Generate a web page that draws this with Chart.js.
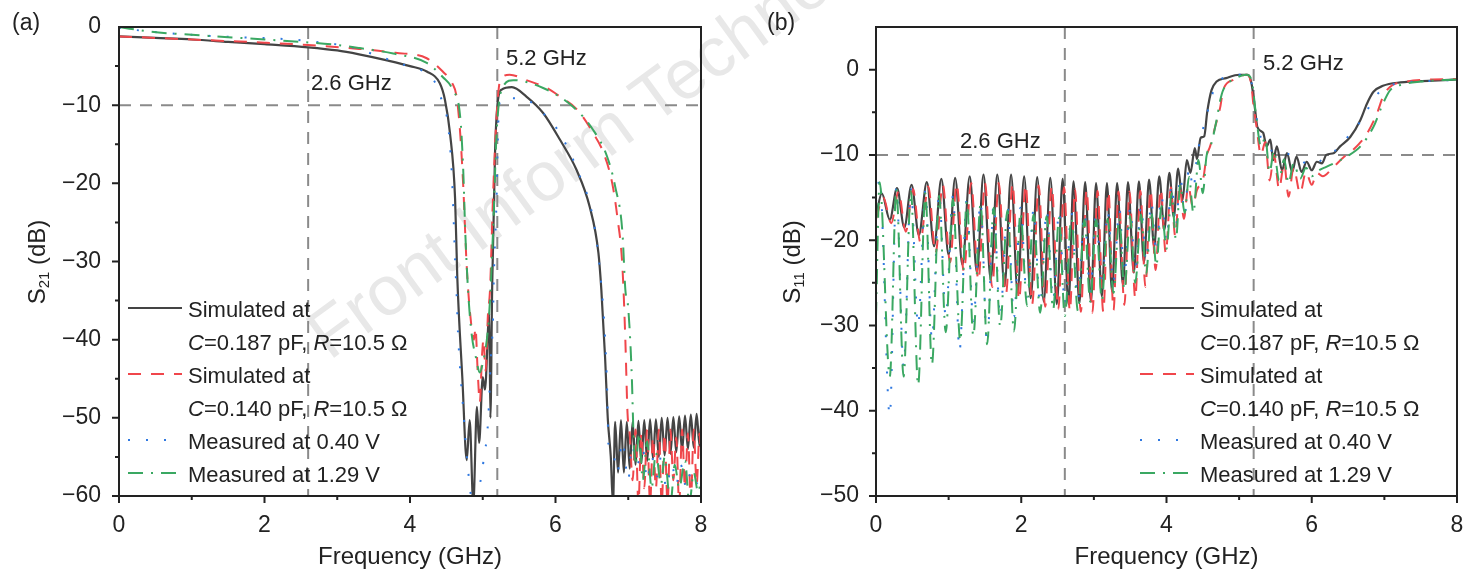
<!DOCTYPE html>
<html lang="en">
<head>
<meta charset="UTF-8">
<title>S21 / S11</title>
<script src="https://cdn.jsdelivr.net/npm/chart.js"></script>
<style>
    body { margin: 0; background: #fff; font-family: Arial, "Liberation Sans", sans-serif; color: #222; }
    #wrap { position: relative; width: 1464px; height: 573px; overflow: hidden; }
    canvas { position: absolute; top: 0; z-index: 1; }
    .txt { position: absolute; white-space: nowrap; line-height: 22px; font-size: 22px; z-index: 2; }
    .ytitle { position: absolute; font-size: 24px; white-space: nowrap; transform: translate(-50%, -50%) rotate(-90deg); z-index: 2; }
    .ytitle sub { font-size: 15px; vertical-align: -4px; }
    .plabel { position: absolute; font-size: 23px; line-height: 23px; z-index: 2; }
    .leg { position: absolute; z-index: 2; }
    .mark { position: absolute; z-index: 0; font-size: 70px; color: #e8e8e8; white-space: nowrap;
            transform-origin: 0 100%; transform: rotate(-36deg); line-height: 70px; }
</style>
</head>
<body>
<div id="wrap">
    <div class="mark" style="left:336px; top:300px;">Front Inform Technol</div>

    <canvas id="chartA" width="732" height="573" style="left:0"></canvas>
    <canvas id="chartB" width="732" height="573" style="left:732px"></canvas>

    <div class="plabel" style="left:12px; top:11px;">(a)</div>
    <div class="plabel" style="left:767px; top:11px;">(b)</div>

    <div class="ytitle" style="left:37px; top:262px;">S<sub>21</sub> (dB)</div>
    <div class="ytitle" style="left:792px; top:262px;">S<sub>11</sub> (dB)</div>

    <div class="txt" style="left:311px; top:72px;">2.6 GHz</div>
    <div class="txt" style="left:506px; top:47px;">5.2 GHz</div>
    <div class="txt" style="left:960px; top:130px;">2.6 GHz</div>
    <div class="txt" style="left:1263px; top:52px;">5.2 GHz</div>

    <div id="legA"></div>
    <div id="legB"></div>
</div>

<script>
    // ---- data (GHz, dB) ----
    const refX = [2.6, 5.2];
    const refY = -10;

    // (a) S21
    const aSim187 = [
        [0,-1.2],[0.5,-1.4],[1,-1.6],[1.5,-1.9],[2,-2.2],[2.6,-2.6],[3,-3.0],[3.3,-3.5],[3.7,-4.3],[4,-5.0],
        [4.23,-5.7],[4.41,-7.2],[4.48,-9.3],[4.55,-13.6],[4.62,-22],[4.65,-32],[4.72,-45],[4.78,-55.4],
        [4.82,-50.3],[4.87,-61],[4.92,-48.6],[4.95,-53.2],[5.0,-44.8],[5.03,-46.4],[5.09,-36.6],[5.105,-50],
        [5.13,-33],[5.17,-15.7],[5.21,-9.3],[5.26,-8.0],[5.4,-7.7],[5.6,-8.9],[5.83,-11.0],[6.06,-14.4],
        [6.29,-18.3],[6.47,-23],[6.59,-28.9],[6.63,-33.6],[6.68,-42],[6.72,-50.3],[6.76,-55],[6.79,-61],
        [6.82,-50.5],[6.86,-57],[6.90,-50.3],[6.94,-57],[6.98,-50.5],[7.02,-56.5],[7.06,-50.5],[7.10,-56],
        [7.14,-50.4],[7.18,-55.8],[7.22,-50.3],[7.26,-55.5],[7.30,-50.2],[7.34,-55.2],[7.38,-50.2],[7.42,-55],
        [7.46,-50],[7.50,-54.8],[7.54,-50],[7.58,-54.6],[7.62,-49.9],[7.66,-54.4],[7.70,-49.8],[7.74,-54.2],
        [7.78,-49.7],[7.82,-54],[7.86,-49.6],[7.90,-53.8],[7.94,-49.5],[7.98,-53.6],[8.0,-51]
    ];
    const aSim140 = [
        [0,-1.2],[0.5,-1.4],[1,-1.6],[1.5,-1.8],[2,-2.0],[2.6,-2.3],[3.3,-2.8],[3.8,-3.3],[4.23,-4.0],
        [4.45,-5.7],[4.58,-7.2],[4.64,-8.9],[4.69,-13.6],[4.73,-20],[4.78,-30.7],[4.83,-37],[4.88,-40],
        [4.9,-38.5],[4.93,-44],[4.96,-48],[4.99,-42],[5.01,-40],[5.04,-44],[5.07,-37],[5.1,-33.6],
        [5.14,-22],[5.19,-11.5],[5.24,-6.8],[5.37,-6.1],[5.6,-6.8],[5.88,-7.8],[6.06,-8.9],[6.3,-10.6],
        [6.52,-13.6],[6.66,-16.1],[6.78,-20],[6.85,-24.3],[6.92,-30.7],[6.96,-40],[6.99,-49.4],
        [7.02,-52],[7.06,-58],[7.10,-51.5],[7.14,-61],[7.18,-52],[7.22,-59],[7.26,-51.5],[7.30,-61],
        [7.34,-52.5],[7.38,-59],[7.42,-51.5],[7.46,-61],[7.50,-52],[7.54,-61],[7.58,-51.5],[7.62,-58],
        [7.66,-52.5],[7.70,-61],[7.74,-51.5],[7.78,-59],[7.82,-52],[7.86,-61],[7.90,-51.5],[7.94,-58.5],
        [7.98,-52],[8.0,-55]
    ];
    const aMeas040 = [
        [0,-0.1],[0.43,-0.6],[1,-1.0],[1.6,-1.3],[2.2,-1.5],[2.6,-1.8],[3.2,-2.6],[3.59,-3.8],[4.0,-5.1],
        [4.23,-5.9],[4.35,-7.2],[4.45,-9.8],[4.52,-12.3],[4.57,-17.9],[4.59,-22],[4.62,-29.8],[4.64,-34],
        [4.66,-39.1],[4.69,-43.9],[4.73,-48.7],[4.77,-53.7],[4.82,-58.6],[4.86,-61],[4.94,-59.2],[4.99,-57],
        [5.02,-54.7],[5.06,-52.2],[5.09,-47.3],[5.11,-42.3],[5.14,-37.7],[5.15,-32.8],[5.19,-22],[5.21,-13.2],
        [5.24,-9.3],[5.35,-9.1],[5.56,-9.2],[5.88,-11.5],[6.06,-13.6],[6.3,-18.3],[6.52,-24.7],[6.62,-32],
        [6.68,-39.6],[6.71,-46.4],[6.73,-53.7],[6.79,-54.5],[6.85,-57],[6.92,-53],[7.0,-58],[7.05,-53.5],
        [7.12,-56],[7.2,-54],[7.26,-58],[7.32,-55],[7.4,-57.5],[7.46,-54.5],[7.52,-59],[7.6,-56],
        [7.66,-58.5],[7.72,-56],[7.8,-59],[7.86,-57],[7.92,-58.5],[8.0,-57.5]
    ];
    const aMeas129 = [
        [0,0],[0.43,-0.6],[1,-1.0],[1.5,-1.3],[2.0,-1.6],[2.49,-1.9],[3.0,-2.3],[3.31,-2.7],[3.77,-3.4],
        [4.23,-4.6],[4.45,-6.4],[4.59,-8.1],[4.69,-11.5],[4.73,-17.9],[4.76,-26.3],[4.8,-34],[4.85,-39.5],
        [4.9,-42],[4.96,-44.2],[5.0,-43],[5.06,-39.7],[5.1,-34.9],[5.15,-24],[5.19,-13.6],[5.26,-8.0],
        [5.42,-6.8],[5.83,-7.8],[6.24,-10.2],[6.52,-13.2],[6.71,-16.6],[6.82,-20.4],[6.92,-26.3],
        [6.96,-33.6],[7.0,-36],[7.05,-45],[7.07,-51.5],[7.1,-56],[7.15,-52],[7.2,-58],[7.26,-53],
        [7.32,-59],[7.38,-54.5],[7.45,-58.5],[7.5,-55],[7.58,-61],[7.64,-56],[7.7,-59],[7.78,-55.5],
        [7.84,-61],[7.9,-57],[7.96,-59.5],[8.0,-58]
    ];

    // (b) S11
    const bSim187 = [
        [0,-17.2],[0.08,-14.5],[0.19,-17.6],[0.29,-13.9],[0.39,-18.5],[0.49,-13.5],[0.59,-19.4],[0.70,-13.2],
        [0.80,-20.7],[0.90,-12.8],[1.0,-21.7],[1.09,-12.7],[1.19,-22.9],[1.29,-12.5],[1.39,-23.8],[1.48,-12.3],
        [1.58,-24.6],[1.67,-12.3],[1.77,-25.4],[1.86,-12.3],[1.95,-26.1],[2.04,-12.5],[2.13,-26.8],[2.22,-12.6],
        [2.31,-27.2],[2.40,-12.7],[2.49,-27.5],[2.57,-12.8],[2.65,-27.5],[2.72,-13.1],[2.80,-27.4],[2.88,-13.2],
        [2.96,-27.2],[3.03,-13.3],[3.11,-26.6],[3.18,-13.3],[3.25,-26.0],[3.32,-13.3],[3.40,-25.2],[3.47,-13.2],
        [3.55,-23.8],[3.62,-13.1],[3.69,-22.6],[3.76,-12.9],[3.83,-20.8],[3.90,-12.5],[3.97,-18.8],[4.04,-12.1],
        [4.10,-17.3],[4.16,-11.6],[4.22,-15.3],[4.28,-10.6],[4.33,-12.1],[4.39,-9.2],[4.42,-10.5],[4.47,-8.0],
        [4.52,-7.8],[4.56,-5.0],[4.62,-2.4],[4.69,-1.4],[4.82,-1.0],[5.0,-0.6],[5.12,-0.6],[5.17,-1.6],
        [5.22,-4.7],[5.25,-6.7],[5.33,-7.4],[5.38,-9.0],[5.43,-8.2],[5.47,-10.6],[5.52,-9.0],[5.59,-11.8],
        [5.66,-9.8],[5.73,-12],[5.79,-10.2],[5.86,-12],[5.93,-10.8],[6.0,-11.8],[6.07,-10.8],[6.14,-11.0],
        [6.2,-10],[6.3,-9.8],[6.39,-9.0],[6.53,-7.9],[6.67,-5.9],[6.76,-4.0],[6.85,-2.6],[6.98,-1.9],
        [7.22,-1.5],[7.67,-1.3],[8.0,-1.15]
    ];
    const bSim140 = [
        [0,-17.5],[0.10,-15],[0.21,-18],[0.31,-14.3],[0.41,-19],[0.51,-14],[0.61,-20.2],[0.72,-13.7],
        [0.82,-21.5],[0.92,-13.5],[1.02,-22.6],[1.11,-13.4],[1.21,-23.7],[1.31,-13.3],[1.41,-24.7],[1.50,-13.3],
        [1.60,-25.5],[1.69,-13.3],[1.79,-26.3],[1.88,-13.4],[1.97,-27],[2.06,-13.5],[2.15,-27.5],[2.24,-13.6],
        [2.33,-27.8],[2.42,-13.7],[2.51,-28.1],[2.59,-13.8],[2.67,-28.3],[2.74,-14],[2.82,-28.4],[2.90,-14.1],
        [2.98,-28.5],[3.05,-14.2],[3.13,-28.4],[3.20,-14.3],[3.27,-28.2],[3.34,-14.3],[3.42,-27.6],[3.49,-14.3],
        [3.57,-26.8],[3.64,-14.2],[3.71,-25.5],[3.78,-14.1],[3.85,-23.5],[3.92,-14],[3.99,-21.5],[4.06,-13.8],
        [4.12,-19.5],[4.18,-13.6],[4.24,-17.5],[4.30,-13.6],[4.36,-16],[4.42,-14.1],[4.51,-12.6],[4.55,-10.2],
        [4.6,-9],[4.67,-6.7],[4.74,-4.4],[4.78,-2.4],[4.92,-1.2],[5.1,-0.6],[5.17,-1.8],[5.19,-3.6],
        [5.24,-6.7],[5.3,-10],[5.36,-8.5],[5.42,-13],[5.48,-10],[5.55,-14],[5.62,-11],[5.68,-14.9],
        [5.75,-11.5],[5.84,-14.5],[5.92,-12],[6.0,-13.5],[6.07,-12.1],[6.15,-12.5],[6.3,-11.4],[6.45,-10.2],
        [6.57,-9.4],[6.76,-7.5],[6.9,-5.1],[6.98,-3.2],[7.08,-2.0],[7.31,-1.4],[7.67,-1.15],[8.0,-1.1]
    ];
    const bMeas040 = [
        [0,-15.5],[0.05,-12.8],[0.19,-40.6],[0.28,-13.8],[0.38,-34.8],[0.48,-14],[0.58,-30],[0.68,-14.2],
        [0.77,-31.6],[0.87,-14.5],[0.96,-29],[1.06,-14.8],[1.15,-33],[1.25,-15.2],[1.34,-29.5],[1.44,-15.5],
        [1.53,-32.2],[1.62,-15.8],[1.71,-29],[1.81,-16],[1.90,-29],[1.99,-16.2],[2.08,-27],[2.17,-16.4],
        [2.26,-27.5],[2.35,-16.5],[2.44,-27],[2.52,-16.6],[2.60,-27.5],[2.69,-16.8],[2.78,-27],[2.87,-16.8],
        [2.95,-26],[3.03,-16.8],[3.11,-25.5],[3.19,-16.6],[3.27,-25],[3.35,-16.4],[3.42,-24],[3.5,-16.2],
        [3.57,-23.5],[3.65,-16],[3.72,-22.5],[3.79,-15.5],[3.86,-21.5],[3.93,-14.8],[4.0,-20],[4.07,-13.5],
        [4.13,-18.5],[4.19,-12.5],[4.25,-17],[4.31,-11.5],[4.37,-14],[4.42,-10.2],[4.51,-6.7],[4.58,-4.5],
        [4.65,-2.4],[4.82,-0.8],[5.0,-0.6],[5.12,-0.6],[5.17,-1.5],[5.22,-4.5],[5.28,-7.5],[5.35,-8.5],
        [5.45,-9.5],[5.56,-9.4],[5.7,-10],[5.84,-10.6],[5.98,-11.2],[6.1,-10.8],[6.2,-10.2],[6.39,-9.0],
        [6.53,-7.5],[6.72,-5.5],[6.85,-3.4],[7.04,-2.0],[7.3,-1.5],[7.7,-1.3],[8.0,-1.2]
    ];
    const bMeas129 = [
        [0,-29],[0.05,-13.2],[0.19,-36],[0.28,-14],[0.38,-36],[0.48,-14.2],[0.58,-37],[0.68,-14.5],
        [0.77,-34.6],[0.87,-14.8],[0.96,-30.8],[1.06,-15.2],[1.16,-31.8],[1.25,-15.5],[1.34,-31.2],[1.44,-15.8],
        [1.53,-32.2],[1.62,-16.2],[1.71,-30.1],[1.81,-16.5],[1.90,-30.7],[1.99,-16.8],[2.08,-27.7],[2.17,-17],
        [2.26,-28.5],[2.35,-17.2],[2.44,-28.1],[2.52,-17.4],[2.60,-28.9],[2.69,-17.5],[2.78,-28.3],[2.87,-17.6],
        [2.95,-27.2],[3.03,-17.6],[3.11,-27],[3.19,-17.5],[3.27,-26.2],[3.35,-17.4],[3.42,-25.8],[3.5,-17.2],
        [3.57,-25],[3.65,-17],[3.72,-24],[3.79,-16.6],[3.86,-23],[3.93,-16],[4.0,-21],[4.07,-14.5],
        [4.13,-19.9],[4.19,-13.5],[4.25,-16.8],[4.31,-12.6],[4.37,-16.8],[4.44,-10.6],[4.5,-14.5],[4.55,-10.2],
        [4.62,-8.6],[4.69,-5.9],[4.74,-3.6],[4.78,-2.4],[4.96,-1.0],[5.1,-0.6],[5.17,-1.2],[5.24,-5.9],
        [5.3,-9],[5.36,-8],[5.42,-12],[5.48,-9.5],[5.55,-13],[5.62,-10.5],[5.68,-13.3],[5.75,-11],
        [5.84,-12.8],[5.92,-11.5],[6.0,-12.5],[6.1,-11.8],[6.2,-11.4],[6.35,-10.8],[6.48,-10.2],[6.67,-9.0],
        [6.85,-6.7],[6.98,-4.0],[7.08,-2.4],[7.22,-1.8],[7.49,-1.4],[8.0,-1.15]
    ];

    // ---- styles ----
    const FONT = 'Arial, "Liberation Sans", sans-serif';
    const INK = '#222';
    const series = [
        { name: 'Simulated at', sub: '<i>C</i>=0.187 pF, <i>R</i>=10.5 Ω', color: '#444', dash: [] },
        { name: 'Simulated at', sub: '<i>C</i>=0.140 pF, <i>R</i>=10.5 Ω', color: '#f0464b', dash: [13, 10] },
        { name: 'Measured at 0.40 V', color: '#2f78e0', dash: [2, 16] },
        { name: 'Measured at 1.29 V', color: '#3aa862', dash: [15, 8, 2, 8] }
    ];

    function ds(i, pts) {
        const s = series[i];
        return {
            label: s.name,
            data: pts.map(p => ({ x: p[0], y: p[1] })),
            borderColor: s.color,
            borderWidth: i === 0 ? 2.2 : 2,
            borderDash: s.dash,
            pointRadius: 0,
            cubicInterpolationMode: 'monotone',
            fill: false,
            order: 4 - i
        };
    }

    const minus = v => v === 0 ? '0' : (v < 0 ? '\u2212' + Math.abs(v) : String(v));

    // dashed reference lines behind the data, frame + outward ticks on top
    const decor = {
        id: 'decor',
        beforeDatasetsDraw(chart) {
            const { ctx, chartArea: a, scales: { x, y } } = chart;
            ctx.save();
            ctx.strokeStyle = '#8a8a8a';
            ctx.lineWidth = 2;
            ctx.setLineDash([12, 9]);
            ctx.beginPath();
            const py = y.getPixelForValue(refY);
            ctx.moveTo(a.left, py); ctx.lineTo(a.right, py);
            refX.forEach(v => {
                const px = x.getPixelForValue(v);
                ctx.moveTo(px, a.top); ctx.lineTo(px, a.bottom);
            });
            ctx.stroke();
            ctx.restore();
        },
        afterDraw(chart) {
            const { ctx, chartArea: a, scales: { x, y } } = chart;
            ctx.save();
            ctx.strokeStyle = INK;
            ctx.lineWidth = 2;
            ctx.strokeRect(a.left, a.top, a.right - a.left, a.bottom - a.top);
            ctx.beginPath();
            x.ticks.forEach(t => {
                const px = x.getPixelForValue(t.value);
                const len = t.value % 2 === 0 ? 7 : 4;
                ctx.moveTo(px, a.bottom); ctx.lineTo(px, a.bottom + len);
            });
            y.ticks.forEach(t => {
                if (t.value > y.max - 0.01) return;
                const py = y.getPixelForValue(t.value);
                const len = t.value % 10 === 0 ? 7 : 4;
                ctx.moveTo(a.left, py); ctx.lineTo(a.left - len, py);
            });
            ctx.stroke();
            ctx.restore();
        }
    };

    function makeChart(id, sets, yMin, yMax, padRight, yWidth, yPad) {
        return new Chart(document.getElementById(id), {
            type: 'line',
            data: { datasets: sets },
            options: {
                responsive: false,
                animation: false,
                layout: { padding: { top: 27, right: padRight, left: 0, bottom: 0 } },
                plugins: { legend: { display: false }, tooltip: { enabled: false } },
                scales: {
                    x: {
                        type: 'linear', min: 0, max: 8,
                        grid: { display: false, drawTicks: false },
                        border: { display: false },
                        ticks: {
                            stepSize: 1, autoSkip: false, maxRotation: 0, padding: 16,
                            color: INK, font: { family: FONT, size: 23 },
                            callback: v => (v % 2 === 0 ? String(v) : '')
                        },
                        title: {
                            display: true, text: 'Frequency (GHz)', color: INK,
                            font: { family: FONT, size: 24 }, padding: { top: 0, bottom: 1 }
                        },
                        afterFit: s => { s.height = 77; s.paddingLeft = 0; s.paddingRight = 0; }
                    },
                    y: {
                        min: yMin, max: yMax,
                        grid: { display: false, drawTicks: false },
                        border: { display: false },
                        ticks: {
                            stepSize: 5, autoSkip: false, padding: yPad,
                            color: INK, font: { family: FONT, size: 23 },
                            callback: v => (v % 10 === 0 ? minus(v) : '')
                        },
                        afterFit: s => { s.width = yWidth; s.paddingTop = 0; s.paddingBottom = 0; }
                    }
                }
            },
            plugins: [decor]
        });
    }

    makeChart('chartA', [ds(0, aSim187), ds(1, aSim140), ds(2, aMeas040), ds(3, aMeas129)], -60, 0, 31, 119, 18);
    makeChart('chartB', [ds(0, bSim187), ds(1, bSim140), ds(2, bMeas040), ds(3, bMeas129)], -50, 5, 7, 144, 17);

    // legends (html, inside the plot areas)
    function legend(el, left, top) {
        const rows = [];
        series.forEach(s => {
            rows.push({ s, text: s.name });
            if (s.sub) rows.push({ s: null, text: s.sub });
        });
        let html = '';
        rows.forEach((r, k) => {
            const cy = top + k * 33;
            if (r.s) {
                html += `<svg class="leg" style="left:${left}px; top:${cy - 8}px" width="54" height="12">` +
                    `<line x1="0" y1="6" x2="54" y2="6" stroke="${r.s.color}" stroke-width="2"` +
                    (r.s.dash.length ? ` stroke-dasharray="${r.s.dash.join(' ')}"` : '') + `/></svg>`;
            }
            html += `<div class="txt" style="left:${left + 60}px; top:${cy - 11}px">${r.text}</div>`;
        });
        el.innerHTML = html;
    }
    legend(document.getElementById('legA'), 128, 310);
    legend(document.getElementById('legB'), 1140, 310);
</script>
</body>
</html>
